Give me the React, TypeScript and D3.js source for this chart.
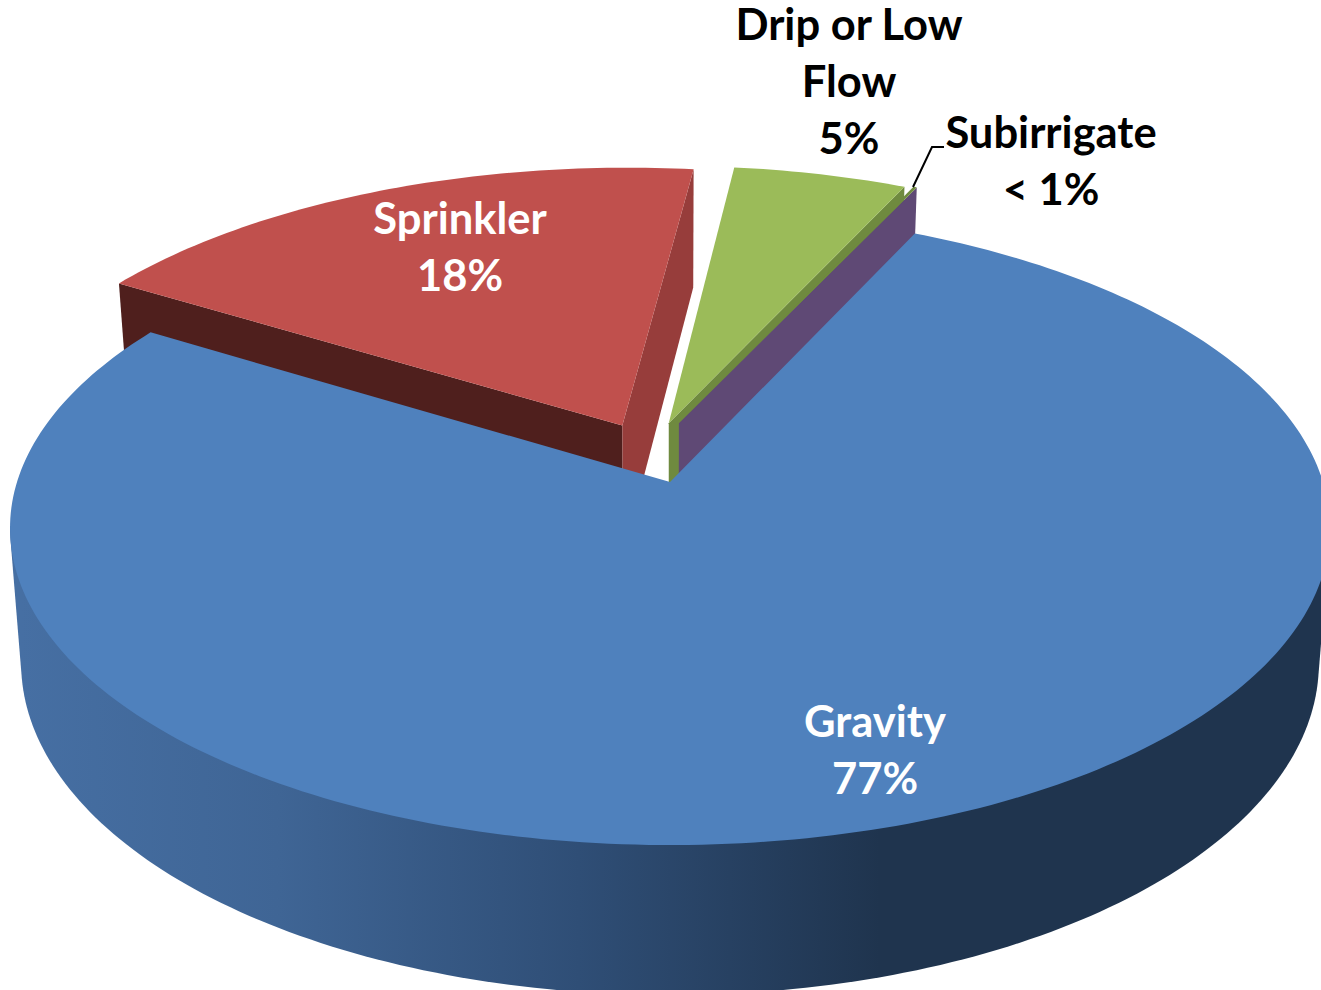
import React from 'react';
import * as d3 from 'd3';

const categories = ['Gravity', 'Sprinkler', 'Drip or Low Flow', 'Subirrigate'];
const shares = [76.7, 18.2, 5.0, 0.1];
const percentLabels = ['77%', '18%', '5%', '< 1%'];

const WIDTH = 1321;
const HEIGHT = 990;
const START_ANGLE = (25.1 * Math.PI) / 180;

// perspective of the pie: top face and (smaller, further away) bottom face
const topFace = { cx: 670, cy: 482, a: 653, b: 310.4 };
const bottomFace = { cx: 670, cy: 615, a: 642, b: 325 };
const K = 0.145;

// how far each slice is pulled out on the pie plane
const explode = [
  { u: 0, v: 0 },
  { u: -0.075, v: 0.187 },
  { u: -0.002, v: 0.195 },
  { u: 0.014, v: 0.195 },
];

type Face = typeof topFace;
type Pt = [number, number];

const project = (face: Face, u: number, v: number): Pt => {
  const w = 1 + K * v;
  return [face.cx + (face.a * u) / w, face.cy - (face.b * v) / w];
};

const pie = d3
  .pie<number>()
  .value((d) => d)
  .sort(null)
  .startAngle(START_ANGLE)
  .endAngle(START_ANGLE + Math.PI * 2);

const line = d3.line<Pt>();

const rim = (face: Face, i: number, a0: number, a1: number): Pt[] => {
  const e = explode[i];
  const n = Math.max(2, Math.ceil(((a1 - a0) * 180) / Math.PI));
  return d3.range(n + 1).map((k) => {
    const a = a0 + ((a1 - a0) * k) / n;
    return project(face, e.u + Math.sin(a), e.v + Math.cos(a));
  });
};

const hub = (face: Face, i: number): Pt => project(face, explode[i].u, explode[i].v);

const topPath = (i: number, a0: number, a1: number) =>
  line([hub(topFace, i), ...rim(topFace, i, a0, a1)]) + 'Z';

// radial side wall of a slice at one angle
const radialWall = (i: number, a: number) => {
  const e = explode[i];
  const tip = (f: Face) => project(f, e.u + Math.sin(a), e.v + Math.cos(a));
  return line([hub(topFace, i), tip(topFace), tip(bottomFace), hub(bottomFace, i)]) + 'Z';
};

// outline of the front wall: hull of both rims between the two silhouette tangents,
// its upper chord stays under the gravity top face
const frontWall = () => {
  const a0 = (98 * Math.PI) / 180;
  const a1 = (262 * Math.PI) / 180;
  const hull = d3.polygonHull([...rim(topFace, 0, a0, a1), ...rim(bottomFace, 0, a0, a1)]);
  return line(hull as Pt[]) + 'Z';
};

const FONT = 'Lato, "Open Sans", sans-serif';

const Label: React.FC<{ x: number; y: number; lines: string[]; fill: string }> = ({ x, y, lines, fill }) => (
  <text x={x} y={y} textAnchor="middle" fontFamily={FONT} fontWeight={700} fontSize={43.5} fill={fill}>
    {lines.map((t, i) => (
      <tspan key={t} x={x} y={y + i * 57}>
        {t}
      </tspan>
    ))}
  </text>
);

export default function App() {
  const arcs = pie(shares);
  const [gravity, sprinkler, drip, sub] = arcs;

  return (
    <svg
      width={WIDTH}
      height={HEIGHT}
      viewBox={`0 0 ${WIDTH} ${HEIGHT}`}
      style={{ position: 'fixed', left: 0, top: 0, background: '#fff' }}
    >
      <defs>
        <linearGradient id="gravityWall" gradientUnits="userSpaceOnUse" x1={20} y1={0} x2={880} y2={0}>
          <stop offset="0" stopColor="#466fa3" />
          <stop offset="0.3" stopColor="#3f6595" />
          <stop offset="0.65" stopColor="#2f4e76" />
          <stop offset="1" stopColor="#1f344e" />
        </linearGradient>
      </defs>

      {/* back slices first */}
      <path d={radialWall(1, sprinkler.startAngle)} fill="#4f1f1d" />
      <path d={radialWall(1, sprinkler.endAngle)} fill="#973d3b" />
      <path d={topPath(1, sprinkler.startAngle, sprinkler.endAngle)} fill="#c0504d" />

      <path d={radialWall(2, drip.endAngle)} fill="#6f8a3f" />
      <path d={topPath(2, drip.startAngle, drip.endAngle)} fill="#9bbb59" />

      <path d={radialWall(3, sub.endAngle)} fill="#5f4975" />
      <path d={topPath(3, sub.startAngle, sub.endAngle)} fill="#6f8a3f" />

      {/* gravity sits in front of everything */}
      <path d={frontWall()} fill="url(#gravityWall)" />
      <path d={topPath(0, gravity.startAngle, gravity.endAngle)} fill="#4f81bd" />

      <path d="M913,187L932,147L944,147" fill="none" stroke="#000" strokeWidth={2} />

      <Label x={875} y={737} lines={[categories[0], percentLabels[0]]} fill="#fff" />
      <Label x={460} y={234} lines={[categories[1], percentLabels[1]]} fill="#fff" />
      <Label x={849} y={40} lines={['Drip or Low', 'Flow', percentLabels[2]]} fill="#000" />
      <Label x={1051} y={148} lines={[categories[3], percentLabels[3]]} fill="#000" />
    </svg>
  );
}
